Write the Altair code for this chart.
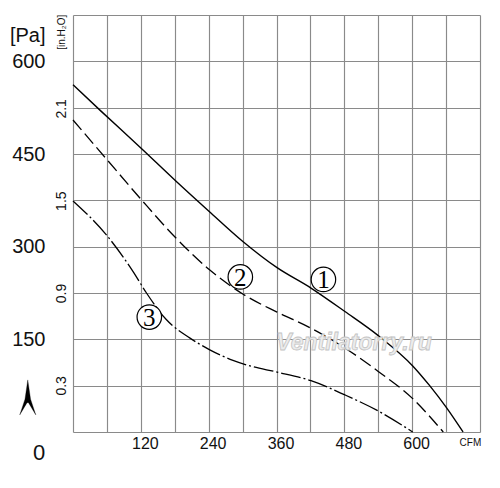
import altair as alt
import pandas as pd

SANS = "Liberation Sans, Arial, sans-serif"
SERIF = "Liberation Serif, DejaVu Serif, serif"

# Curve 1 (solid)
cfm1 = [0, 50, 121, 180, 241, 301, 361, 421, 481, 540, 601, 631, 661, 690]
pa1 = [562, 519, 459, 408, 357, 308, 266, 233, 195, 156, 107, 75, 39, 0]
# Curve 2 (dashed)
cfm2 = [0, 60, 121, 180, 241, 301, 361, 421, 481, 540, 601, 655]
pa2 = [505, 441, 376, 316, 263, 223, 194, 168, 136, 98, 54, 0]
# Curve 3 (dash-dot)
cfm3 = [0, 60, 106, 130, 165, 207, 242, 283, 313, 361, 421, 481, 540, 601]
pa3 = [374, 318, 260, 225, 182, 152, 133, 116, 107, 97, 83, 60, 34, 0]

# circled curve labels
lab_text = ["1", "2", "3"]
lab_cfm = [443, 296, 135]
lab_pa = [247, 251, 186]

# secondary unit labels (in. H2O)
inh2o_vals = [0.3, 0.9, 1.5, 2.1]
PA_PER_INH2O = 249.09

x_grid = list(range(0, 721, 60))
y_grid = list(range(0, 676, 75))

GRID = "#8a8a8a"

xs = alt.Scale(domain=[0, 720], nice=False, zero=False)
ys = alt.Scale(domain=[0, 675], nice=False, zero=False)

x_axis = alt.Axis(
    values=x_grid, grid=True, gridColor=GRID, gridWidth=1.15, gridOpacity=1,
    domain=False, ticks=False, title=None, labelOverlap=False, labelBound=False,
    labelExpr="(datum.value % 120 == 0 && datum.value > 0 && datum.value < 720) ? datum.label : ''",
    labelFont=SANS, labelFontSize=16, labelColor="#111", labelPadding=3, labelOffset=4,
)
y_axis = alt.Axis(
    values=y_grid, grid=True, gridColor=GRID, gridWidth=1.15, gridOpacity=1,
    domain=False, ticks=False, labelOverlap=False, labelBound=False,
    labelExpr="(datum.value % 150 == 0 && datum.value > 0 && datum.value < 675) ? datum.label : ''",
    labelFont=SANS, labelFontSize=20, labelColor="#111", labelPadding=28,
    title="[Pa]", titleAngle=0, titleX=-28, titleY=20, titleAlign="right",
    titleBaseline="middle", titleFont=SANS, titleFontSize=20,
    titleFontWeight="normal", titleColor="#111",
)

X = alt.X("cfm:Q", scale=xs, axis=x_axis)
Y = alt.Y("pa:Q", scale=ys, axis=y_axis)

d1 = pd.DataFrame({"cfm": cfm1, "pa": pa1})
d2 = pd.DataFrame({"cfm": cfm2, "pa": pa2})
d3 = pd.DataFrame({"cfm": cfm3, "pa": pa3})

line1 = alt.Chart(d1).mark_line(color="#000", strokeWidth=1.4, interpolate="monotone").encode(x=X, y=Y)
line2 = alt.Chart(d2).mark_line(color="#000", strokeWidth=1.3, strokeDash=[13, 5], interpolate="monotone").encode(x=X, y=Y)
line3 = alt.Chart(d3).mark_line(color="#000", strokeWidth=1.3, strokeDash=[20, 3, 2, 3], interpolate="monotone").encode(x=X, y=Y)

# watermark
wm = alt.Chart(pd.DataFrame({"cfm": [497], "pa": [144], "t": ["Ventilatorry.ru"]})).mark_text(
    font=SANS, fontSize=23, fontStyle="italic", fontWeight="bold",
    fill="#ececec", stroke="#c4c4c4", strokeWidth=0.8, align="center", baseline="middle",
).encode(x=X, y=Y, text="t:N")

labs = pd.DataFrame({"cfm": lab_cfm, "pa": lab_pa, "t": lab_text})
circ = alt.Chart(labs).mark_point(
    shape="circle", size=600, filled=True, fill="white", stroke="#000", strokeWidth=1.2, opacity=1
).encode(x=X, y=Y)
circ_t = alt.Chart(labs).mark_text(
    font=SERIF, fontSize=25, color="#000", align="center", baseline="middle", dy=1
).encode(x=X, y=Y, text="t:N")

# in.H2O labels (rotated)
inh = pd.DataFrame({
    "cfm": [-19] * len(inh2o_vals),
    "pa": [v * PA_PER_INH2O for v in inh2o_vals],
    "t": [str(v) for v in inh2o_vals],
})
inh_t = alt.Chart(inh).mark_text(
    font=SANS, fontSize=14, angle=270, align="center", baseline="middle", color="#111"
).encode(x=X, y=Y, text="t:N")

unit2 = alt.Chart(pd.DataFrame({"cfm": [-19], "pa": [647], "t": ["[in.H₂O]"]})).mark_text(
    font=SANS, fontSize=10, angle=270, align="center", baseline="middle", color="#111"
).encode(x=X, y=Y, text="t:N")

zero_t = alt.Chart(pd.DataFrame({"cfm": [-49], "pa": [-34], "t": ["0"]})).mark_text(
    font=SANS, fontSize=22, align="right", baseline="middle", color="#111"
).encode(x=X, y=Y, text="t:N")

cfm_t = alt.Chart(pd.DataFrame({"cfm": [703], "pa": [-18], "t": ["CFM"]})).mark_text(
    font=SANS, fontSize=10, align="center", baseline="middle", color="#111"
).encode(x=X, y=Y, text="t:N")

arrow = alt.Chart(pd.DataFrame({"cfm": [-80], "pa": [56]})).mark_point(
    shape="M0,-1 L0.16,0.1 L0.46,1 L0.04,0.3 L-0.04,0.3 L-0.46,1 L-0.16,0.1 Z",
    size=1225, filled=True, fill="#000", stroke="#000", strokeWidth=0.3, opacity=1,
).encode(x=X, y=Y)

chart = alt.layer(
    line1, line2, line3, wm, circ, circ_t, inh_t, unit2, zero_t, cfm_t, arrow
).properties(
    width=407, height=417,
    autosize=alt.AutoSizeParams(type="none"),
    padding={"left": 65, "top": 7, "right": 10, "bottom": 50},
    background="white",
).configure_view(stroke=None)

chart.save("out.html", embed_options={"renderer": "svg", "actions": False})
